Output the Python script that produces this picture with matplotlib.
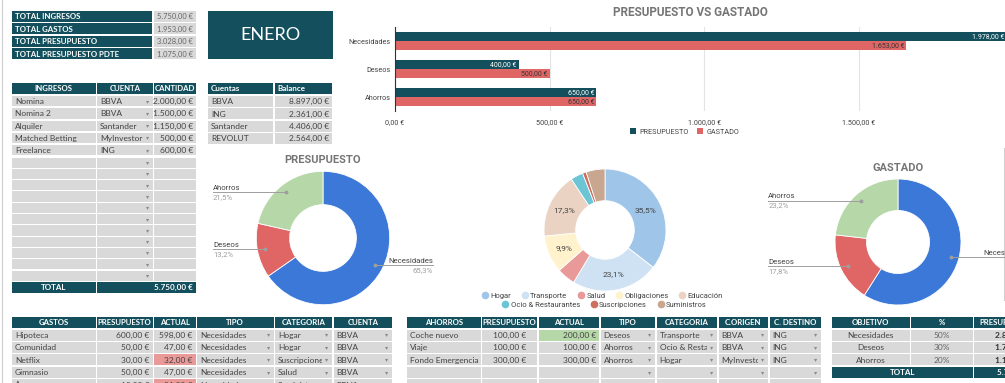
import numpy as np
import matplotlib
matplotlib.use("Agg")
import matplotlib.pyplot as plt
from matplotlib.patches import Rectangle
from matplotlib.lines import Line2D
from matplotlib.ticker import FuncFormatter

W, H = 1005, 383
DARK = "#134f5c"
CELL = "#d9d9d9"
TXT = "#434343"
RED = "#e06666"
BLUE = "#3c78d8"
GREEN = "#b6d7a8"
HI_RED = "#ea9999"
HI_GREEN = "#b6d7a8"
TITLE_C = "#757575"
GAP = 1.5

SHEET_FONT = ["Lato", "DejaVu Sans"]
CHART_FONT = ["Roboto", "DejaVu Sans"]

# ---- data ----
resumen_labels = ["TOTAL INGRESOS", "TOTAL GASTOS", "TOTAL PRESUPUESTO", "TOTAL PRESUPUESTO PDTE"]
resumen_values = [5750, 1953, 3028, 1075]
mes = "ENERO"

ingresos_cols = ["INGRESOS", "CUENTA", "CANTIDAD"]
ingresos_nombre = ["Nomina", "Nomina 2", "Alquiler", "Matched Betting", "Freelance"]
ingresos_cuenta = ["BBVA", "BBVA", "Santander", "MyInvestor", "ING"]
ingresos_cantidad = [2000, 1500, 1150, 500, 600]
ingresos_filas = 16

cuentas_cols = ["Cuentas", "Balance"]
cuentas = ["BBVA", "ING", "Santander", "REVOLUT"]
balances = [8897, 2361, 4406, 2564]

tipos = ["Necesidades", "Deseos", "Ahorros"]
presupuesto = [1978, 400, 650]
gastado = [1653, 500, 650]
tipo_colors = [BLUE, RED, GREEN]

categorias = ["Hogar", "Transporte", "Salud", "Obligaciones", "Educación",
              "Ocio & Restaurantes", "Suscripciones", "Suministros"]
categorias_pct = [35.5, 23.1, 4.9, 9.9, 17.3, 3.3, 1.0, 5.0]
categorias_colors = ["#9fc5e8", "#cfe2f3", "#ea9999", "#fff2cc", "#ead3c3",
                     "#6cc5d4", "#cc6f5f", "#c9a68f"]

gastos_cols = ["GASTOS", "PRESUPUESTO", "ACTUAL", "TIPO", "CATEGORIA", "CUENTA"]
gastos_nombre = ["Hipoteca", "Comunidad", "Netflix", "Gimnasio", "Agua"]
gastos_presup = [600, 50, 30, 50, 18]
gastos_actual = [598, 47, 32, 47, 21]
gastos_tipo = ["Necesidades"] * 5
gastos_categoria = ["Hogar", "Hogar", "Suscripciones", "Salud", "Suministros"]
gastos_cuenta = ["BBVA"] * 5

ahorros_cols = ["AHORROS", "PRESUPUESTO", "ACTUAL", "TIPO", "CATEGORIA", "C.ORIGEN", "C. DESTINO"]
ahorros_nombre = ["Coche nuevo", "Viaje", "Fondo Emergencia"]
ahorros_presup = [100, 100, 300]
ahorros_actual = [200, 100, 300]
ahorros_tipo = ["Deseos", "Ahorros", "Ahorros"]
ahorros_categoria = ["Transporte", "Ocio & Restaurantes", "Hogar"]
ahorros_origen = ["BBVA", "BBVA", "MyInvestor"]
ahorros_destino = ["ING", "ING", "ING"]
ahorros_filas = 5

objetivo_cols = ["OBJETIVO", "%", "PRESUPUESTO"]
objetivo_pct = [50, 30, 20]


def eur(v):
    s = f"{v:,.2f}".replace(",", "X").replace(".", ",").replace("X", ".")
    return s + " €"


def pct(v):
    return f"{v:.1f}%".replace(".", ",")


fig = plt.figure(figsize=(W / 100, H / 100), dpi=100)
fig.patch.set_facecolor("white")
bg = fig.add_axes([0, 0, 1, 1])
bg.set_xlim(0, W)
bg.set_ylim(H, 0)
bg.axis("off")


def px_axes(x0, y0, x1, y1):
    ax = fig.add_axes([x0 / W, 1 - y1 / H, (x1 - x0) / W, (y1 - y0) / H])
    ax.set_facecolor("none")
    return ax


def cell(x0, x1, y0, h, text="", fc=CELL, ha="left", color=TXT, bold=False,
         size=6.0, arrow=False):
    bg.add_patch(Rectangle((x0, y0), x1 - x0, h, fc=fc, ec="none"))
    if arrow:
        bg.text(x1 - 5, y0 + h / 2, "▾", ha="center", va="center", fontsize=4.5,
                color="#8a8a8a", family=["DejaVu Sans"])
    if text == "":
        return
    tx = {"left": x0 + 3, "right": x1 - 3, "center": (x0 + x1) / 2}[ha]
    t = bg.text(tx, y0 + h / 2 + 0.4, text, ha=ha, va="center", fontsize=size,
                color=color, fontweight="bold" if bold else "normal",
                family=SHEET_FONT)
    if arrow:
        # long values are cut before the dropdown arrow, as in the sheet
        t.set_clip_on(True)
        t.set_clip_path(Rectangle((x0, y0), x1 - x0 - 10, h, transform=bg.transData))


def header(edges, names, top, h=11, size=5.6):
    for i, n in enumerate(names):
        cell(edges[i], edges[i + 1] - GAP, top, h, n, fc=DARK, ha="center",
             color="white", bold=True, size=size)


def body(edges, tops, h, rows, aligns, arrows, fills=None):
    for r, top in enumerate(tops):
        vals = rows[r] if r < len(rows) else [""] * len(aligns)
        for c in range(len(aligns)):
            fc = CELL
            if fills is not None and r < len(fills) and fills[r][c]:
                fc = fills[r][c]
            cell(edges[c], edges[c + 1] - GAP, top, h, vals[c], fc=fc,
                 ha=aligns[c], arrow=arrows[c])


# ---- resumen ----
for i, (lab, val) in enumerate(zip(resumen_labels, resumen_values)):
    top = 11 + 12.4 * i
    cell(12, 152, top, 11, lab, fc=DARK, color="white", bold=True, size=5.7)
    cell(153.5, 196, top, 11, eur(val), ha="right", color="#666666", size=5.4)

bg.add_patch(Rectangle((208, 11), 125, 48, fc=DARK, ec="none"))
bg.text(270.5, 35.5, mes, ha="center", va="center", color="white", fontsize=13,
        family=SHEET_FONT)

# ---- ingresos ----
ing_edges = [12, 97, 154, 197.5]
header(ing_edges, ingresos_cols, 82.5, 11.5)
ing_tops = [96 + 12.3 * i for i in range(5)] + [157.5 + 11.3 * i for i in range(ingresos_filas - 5)]
ing_rows = [[n, c, eur(v)] for n, c, v in zip(ingresos_nombre, ingresos_cuenta, ingresos_cantidad)]
body(ing_edges, ing_tops, 10.2, ing_rows, ["left", "left", "right"], [False, True, False])
cell(12, 95.5, 282, 11, "TOTAL", fc=DARK, ha="center", color="white", bold=True, size=5.8)
cell(97, 196, 282, 11, eur(sum(ingresos_cantidad)), fc=DARK, ha="right",
     color="white", bold=True, size=5.8)

# ---- cuentas ----
cu_edges = [208, 274.5, 333.5]
for i, n in enumerate(cuentas_cols):
    cell(cu_edges[i], cu_edges[i + 1] - GAP, 82.5, 11.5, n, fc=DARK, color="white",
         bold=True, size=5.8)
cu_rows = [[c, eur(b)] for c, b in zip(cuentas, balances)]
body(cu_edges, [96 + 12.3 * i for i in range(4)], 11, cu_rows, ["left", "right"], [False, False])

# ---- gastos ----
ga_edges = [12, 97, 154, 197, 275, 333.5, 393.5]
bot_tops = [329.5 + 12.4 * i for i in range(5)]
header(ga_edges, gastos_cols, 317)
ga_rows = [[n, eur(p), eur(a), t, c, cu] for n, p, a, t, c, cu in
           zip(gastos_nombre, gastos_presup, gastos_actual, gastos_tipo, gastos_categoria, gastos_cuenta)]
ga_fill = [[None, None, HI_RED if a > p else None, None, None, None]
           for p, a in zip(gastos_presup, gastos_actual)]
body(ga_edges, bot_tops, 11, ga_rows, ["left", "right", "right", "left", "left", "left"],
     [False, False, False, True, True, True], ga_fill)

# ---- ahorros ----
ah_edges = [407, 482, 538.5, 600.5, 656.5, 718.5, 769.5, 822]
header(ah_edges, ahorros_cols, 317)
ah_rows = [[n, eur(p), eur(a), t, c, o, d] for n, p, a, t, c, o, d in
           zip(ahorros_nombre, ahorros_presup, ahorros_actual, ahorros_tipo,
               ahorros_categoria, ahorros_origen, ahorros_destino)]
ah_fill = [[None, None, HI_GREEN if a > p else None, None, None, None, None]
           for p, a in zip(ahorros_presup, ahorros_actual)]
body(ah_edges, bot_tops[:ahorros_filas], 11, ah_rows,
     ["left", "center", "right", "left", "left", "left", "left"],
     [False, False, False, True, True, True, True], ah_fill)

# ---- objetivo ----
ob_edges = [832, 911, 974, 1040]
header(ob_edges, objetivo_cols, 317)
total_ing = sum(ingresos_cantidad)
for i, (t, p) in enumerate(zip(tipos, objetivo_pct)):
    top = bot_tops[i]
    cell(ob_edges[0], ob_edges[1] - GAP, top, 11, t, ha="center")
    cell(ob_edges[1], ob_edges[2] - GAP, top, 11, f"{p}%", ha="center", color="#666666")
    cell(ob_edges[2], ob_edges[3] - GAP, top, 11, eur(total_ing * p / 100), ha="right",
         bold=True, color="#333333")
cell(ob_edges[0], ob_edges[2] - GAP, bot_tops[3], 11, "TOTAL", fc=DARK, ha="center",
     color="white", bold=True, size=5.8)
cell(ob_edges[2], ob_edges[3] - GAP, bot_tops[3], 11, eur(total_ing), fc=DARK, ha="right",
     color="white", bold=True, size=5.8)

# sheet borders
bg.plot([1.5, 1.5], [0, H], color="#cccccc", lw=0.8)
bg.plot([1003.5, 1003.5], [148, 300], color="#d0d0d0", lw=0.8)

# ---- bar chart ----
bx = px_axes(395, 27, 1005, 111)
y = np.arange(len(tipos))
bx.barh(y - 0.16, presupuesto, height=0.29, color=DARK, label="PRESUPUESTO", zorder=3)
bx.barh(y + 0.16, gastado, height=0.29, color=RED, label="GASTADO", zorder=3)
for yi, v in zip(y, presupuesto):
    bx.text(v - 6, yi - 0.16, eur(v), ha="right", va="center", fontsize=5,
            color="white", family=CHART_FONT, zorder=4)
for yi, v in zip(y, gastado):
    bx.text(v - 6, yi + 0.16, eur(v), ha="right", va="center", fontsize=5,
            color="#333333", family=CHART_FONT, zorder=4)
bx.set_xlim(0, 1973)
bx.set_ylim(2.5, -0.5)
bx.set_yticks(y)
bx.set_yticklabels(tipos)
bx.set_xticks([0, 500, 1000, 1500])
bx.xaxis.set_major_formatter(FuncFormatter(lambda v, p: eur(v)))
bx.tick_params(axis="both", length=0, labelsize=5.2, labelcolor="#444444")
bx.tick_params(axis="x", pad=6)
bx.tick_params(axis="y", pad=3)
for lab in bx.get_xticklabels() + bx.get_yticklabels():
    lab.set_family(CHART_FONT)
bx.grid(axis="x", color="#e3e3e3", lw=0.8, zorder=0)
for s in ["top", "right", "bottom"]:
    bx.spines[s].set_visible(False)
bx.spines["left"].set_color("#333333")
bx.spines["left"].set_linewidth(0.8)
bx.spines["left"].set_zorder(5)
bx.legend(ncol=2, loc="center", bbox_to_anchor=(0.475, -0.25), frameon=False,
          handlelength=0.8, handleheight=0.8, handletextpad=0.5, columnspacing=1.2,
          prop={"family": CHART_FONT, "size": 5.2}, labelcolor="#444444")
bg.text(690, 12, "PRESUPUESTO VS GASTADO", ha="center", va="center", fontsize=8.5,
        fontweight="bold", color=TITLE_C, family=CHART_FONT)


# ---- donuts ----
def donut(cx, cy, R, vals, names, colors, title, lab_off):
    hw = lab_off + 0.1
    ax = px_axes(cx - hw * R, cy - 1.4 * R, cx + hw * R, cy + 1.1 * R)
    wedges, _ = ax.pie(vals, colors=colors, startangle=90, counterclock=False,
                       wedgeprops=dict(width=0.5, edgecolor="white", linewidth=0.6))
    ax.set_xlim(-hw, hw)
    ax.set_ylim(-1.1, 1.4)
    ax.text(0, 1.17, title, ha="center", va="center", fontsize=8, fontweight="bold",
            color=TITLE_C, family=CHART_FONT)
    total = sum(vals)
    for w, n, v in zip(wedges, names, vals):
        a = np.deg2rad((w.theta1 + w.theta2) / 2)
        dx, dy = 0.88 * np.cos(a), 0.88 * np.sin(a)
        side = -1 if dx < 0 else 1
        ex = side * lab_off
        ax.plot([dx, ex], [dy, dy], color="#9e9e9e", lw=0.7, clip_on=False)
        ax.plot(dx, dy, "o", ms=1.8, color="#9e9e9e")
        ha = "left" if side < 0 else "right"
        ax.text(ex, dy + 0.02, n, ha=ha, va="bottom", fontsize=5.6, color="#444444",
                family=CHART_FONT)
        ax.text(ex, dy - 0.03, pct(100 * v / total), ha=ha, va="top", fontsize=5.6,
                color="#a0a0a0", family=CHART_FONT)
    return ax


donut(323, 238, 66.7, presupuesto, tipos, tipo_colors, "PRESUPUESTO", 1.65)
donut(898, 242, 63, gastado, tipos, tipo_colors, "GASTADO", 2.06)

# middle donut by categoria
R = 61
mx = px_axes(605 - 1.2 * R, 230 - 1.2 * R, 605 + 1.2 * R, 230 + 1.2 * R)
mw, _ = mx.pie(categorias_pct, colors=categorias_colors, startangle=90, counterclock=False,
               wedgeprops=dict(width=0.52, edgecolor="white", linewidth=0.6))
mx.set_xlim(-1.2, 1.2)
mx.set_ylim(-1.2, 1.2)
for w, v in zip(mw, categorias_pct):
    if v < 9:
        continue
    a = np.deg2rad((w.theta1 + w.theta2) / 2)
    mx.text(0.74 * np.cos(a), 0.74 * np.sin(a), pct(v), ha="center", va="center",
            fontsize=6, color="#444444", family=CHART_FONT)

handles = [Line2D([], [], marker="o", ls="", ms=4.5, mfc=c, mec=c) for c in categorias_colors]
leg_kw = dict(loc="center", frameon=False, handletextpad=0.2, columnspacing=1.3,
              handlelength=1.0, prop={"family": CHART_FONT, "size": 5.5},
              labelcolor="#444444", borderpad=0, borderaxespad=0)
fig.legend(handles[:5], categorias[:5], ncol=5, bbox_to_anchor=(602 / W, 1 - 295.5 / H), **leg_kw)
fig.legend(handles[5:], categorias[5:], ncol=3, bbox_to_anchor=(604 / W, 1 - 304.5 / H), **leg_kw)

fig.savefig("out.png", dpi=100, facecolor="white")
